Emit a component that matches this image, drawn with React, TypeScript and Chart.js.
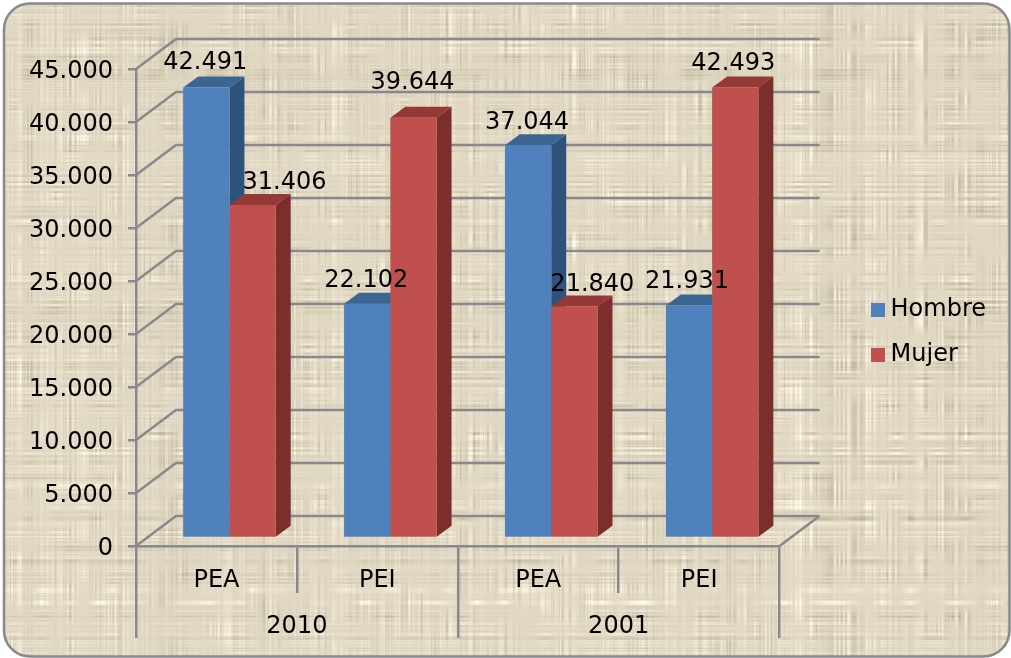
import React, { useEffect, useRef } from "react";
import { Chart, registerables } from "chart.js";

Chart.register(...registerables);

const categories = ["PEA", "PEI", "PEA", "PEI"];
const years = ["2010", "2001"];
const hombre = [42491, 22102, 37044, 21931];
const mujer = [31406, 39644, 21840, 42493];
const seriesNames = ["Hombre", "Mujer"];

const FONT = '"DejaVu Sans", sans-serif';
const FONT_SIZE = 24;
const GRID = "#87898c";
const LINE = 2.5;
const DEPTH = { x: 40, y: 30 };
const BAR_DEPTH = { x: 15, y: 11 };
const BAR_SHIFT = { x: 13, y: -8 };
const faces = [
  { front: "#4f81bd", top: "#3d6592", side: "#2f527c" },
  { front: "#c0504d", top: "#943936", side: "#7b2e2c" },
];
// [dx, dy] of each value label from the bar's front-top centre
const hombreLabelShift = [[-1, -25], [-1, -23], [-1, -23], [-2, -24]];
const mujerLabelShift = [[32, -22], [-1, -35], [18, -22], [-2, -24]];

const fmt = (v: number) =>
  String(v).replace(/\B(?=(\d{3})+(?!\d))/g, ".");

function makeTexture(w: number, h: number) {
  const c = document.createElement("canvas");
  c.width = w;
  c.height = h;
  const g = c.getContext("2d")!;
  const img = g.createImageData(w, h);
  let seed = 12345;
  const next = () => {
    seed = (seed * 1664525 + 1013904223) >>> 0;
    return seed / 4294967296;
  };
  const smooth = (a: number[]) =>
    a.map((v, i) => v * 0.6 + (a[i - 1] ?? v) * 0.2 + (a[i + 1] ?? v) * 0.2);
  const cols = smooth(Array.from({ length: w }, () => next() - 0.5));
  const rows = smooth(Array.from({ length: h }, () => next() - 0.5));
  const CELL = 14;
  const gw = Math.ceil(w / CELL) + 2;
  const gh = Math.ceil(h / CELL) + 2;
  const patchA = Array.from({ length: gw * gh }, () => next());
  const patchB = Array.from({ length: gw * gh }, () => next());
  const sample = (p: number[], x: number, y: number) => {
    const fx = x / CELL, fy = y / CELL;
    const ix = Math.floor(fx), iy = Math.floor(fy);
    const tx = fx - ix, ty = fy - iy;
    const a = p[iy * gw + ix], b = p[iy * gw + ix + 1];
    const d = p[(iy + 1) * gw + ix], e = p[(iy + 1) * gw + ix + 1];
    return (a * (1 - tx) + b * tx) * (1 - ty) + (d * (1 - tx) + e * tx) * ty;
  };
  for (let y = 0; y < h; y++) {
    for (let x = 0; x < w; x++) {
      const pa = sample(patchA, x, y);
      const pb = sample(patchB, x, y);
      const n = (cols[x] * pa * pa + rows[y] * pb * pb) * 85;
      const i = (y * w + x) * 4;
      img.data[i] = 225 + n;
      img.data[i + 1] = 216 + n * 1.02;
      img.data[i + 2] = 195 + n * 1.1;
      img.data[i + 3] = 255;
    }
  }
  g.putImageData(img, 0, 0);
  return c;
}

function swatch(color: string) {
  const c = document.createElement("canvas");
  c.width = 14;
  c.height = 14;
  const g = c.getContext("2d")!;
  g.fillStyle = color;
  g.fillRect(0, 0, 14, 14);
  return c;
}

const scene3d = {
  id: "scene3d",
  beforeDraw(chart: any) {
    const { ctx } = chart;
    const tex = makeTexture(chart.width, chart.height);
    ctx.save();
    ctx.beginPath();
    ctx.roundRect(4, 3.5, 1005.5, 653, 26);
    ctx.save();
    ctx.clip();
    ctx.drawImage(tex, 0, 0);
    ctx.restore();
    ctx.lineWidth = LINE;
    ctx.strokeStyle = GRID;
    ctx.stroke();
    ctx.restore();
  },
  beforeDatasetDraw(chart: any, args: any) {
    const { ctx, scales } = chart;
    if (args.index === 1) {
      const y = scales.y;
      const { left, right, bottom } = chart.chartArea;
      ctx.save();
      ctx.strokeStyle = GRID;
      ctx.lineWidth = LINE;
      ctx.beginPath();
      y.ticks.forEach((t: any) => {
        const py = y.getPixelForValue(t.value);
        ctx.moveTo(left, py);
        ctx.lineTo(left + DEPTH.x, py - DEPTH.y);
        ctx.lineTo(right + DEPTH.x, py - DEPTH.y);
      });
      ctx.moveTo(right, bottom);
      ctx.lineTo(right + DEPTH.x, bottom - DEPTH.y);
      ctx.stroke();

      [0, 1].forEach((ds) => {
        const st = faces[ds];
        chart.getDatasetMeta(ds).data.forEach((bar: any) => {
          const p = bar.getProps(["x", "y", "base", "width"], true);
          const r = p.x + p.width / 2 + BAR_SHIFT.x;
          const l = p.x - p.width / 2 + BAR_SHIFT.x;
          const top = p.y + BAR_SHIFT.y;
          const base = p.base + BAR_SHIFT.y;
          ctx.fillStyle = st.side;
          ctx.beginPath();
          ctx.moveTo(r, top);
          ctx.lineTo(r + BAR_DEPTH.x, top - BAR_DEPTH.y);
          ctx.lineTo(r + BAR_DEPTH.x, base - BAR_DEPTH.y);
          ctx.lineTo(r, base);
          ctx.closePath();
          ctx.fill();
          ctx.fillStyle = st.top;
          ctx.beginPath();
          ctx.moveTo(l, top);
          ctx.lineTo(l + BAR_DEPTH.x, top - BAR_DEPTH.y);
          ctx.lineTo(r + BAR_DEPTH.x, top - BAR_DEPTH.y);
          ctx.lineTo(r, top);
          ctx.closePath();
          ctx.fill();
        });
      });
      ctx.restore();
    }
    ctx.save();
    ctx.translate(BAR_SHIFT.x, BAR_SHIFT.y);
  },
  afterDatasetDraw(chart: any) {
    chart.ctx.restore();
  },
  afterDatasetsDraw(chart: any) {
    const { ctx } = chart;
    ctx.save();
    ctx.fillStyle = "#000";
    ctx.font = `${FONT_SIZE}px ${FONT}`;
    ctx.textAlign = "center";
    ctx.textBaseline = "middle";
    const shifts = [hombreLabelShift, mujerLabelShift];
    chart.data.datasets.forEach((d: any, ds: number) => {
      chart.getDatasetMeta(ds).data.forEach((bar: any, i: number) => {
        const p = bar.getProps(["x", "y"], true);
        ctx.fillText(
          fmt(d.data[i]),
          p.x + BAR_SHIFT.x + shifts[ds][i][0],
          p.y + BAR_SHIFT.y + shifts[ds][i][1]
        );
      });
    });
    ctx.restore();
  },
};

export default function App() {
  const ref = useRef<HTMLCanvasElement>(null);
  useEffect(() => {
    const axisFont = { family: FONT, size: FONT_SIZE };
    const chart = new Chart(ref.current!, {
      type: "bar",
      data: {
        labels: categories,
        datasets: [
          { label: seriesNames[0], data: hombre, backgroundColor: faces[0].front, xAxisID: "x", yAxisID: "y" },
          { label: seriesNames[1], data: mujer, backgroundColor: faces[1].front, xAxisID: "x", yAxisID: "y" },
        ],
      },
      options: {
        animation: false,
        responsive: false,
        events: [],
        layout: { padding: { top: 6, left: 0, right: 15, bottom: 0 } },
        datasets: { bar: { categoryPercentage: 0.575, barPercentage: 1 } },
        plugins: {
          tooltip: { enabled: false },
          legend: {
            position: "right",
            labels: {
              font: axisFont,
              color: "#000",
              padding: 21,
              usePointStyle: true,
              pointStyleWidth: 2,
              boxHeight: 14,
              generateLabels(c: any) {
                return c.data.datasets.map((d: any, i: number) => ({
                  text: d.label,
                  fontColor: "#000",
                  pointStyle: swatch(faces[i].front),
                  datasetIndex: i,
                  lineWidth: 0,
                  strokeStyle: "transparent",
                  fillStyle: faces[i].front,
                }));
              },
            },
          },
        },
        scales: {
          x: {
            position: "bottom",
            weight: 1,
            offset: true,
            grid: { offset: true, drawOnChartArea: false, drawTicks: true, tickLength: 47, color: GRID, lineWidth: LINE },
            border: { color: GRID, width: LINE },
            ticks: { font: axisFont, color: "#000", padding: -27, maxRotation: 0 },
            afterFit(s: any) { s.height = 47; },
          },
          x2: {
            type: "category",
            labels: years,
            position: "bottom",
            weight: 2,
            offset: true,
            grid: { offset: true, drawOnChartArea: false, tickLength: 45, color: GRID, lineWidth: LINE },
            border: { display: false },
            ticks: { font: axisFont, color: "#000", padding: -26, maxRotation: 0 },
            afterFit(s: any) { s.height = 65; },
          },
          topGap: {
            type: "category",
            labels: [""],
            position: "top",
            grid: { display: false },
            border: { display: false },
            ticks: { display: false },
            afterFit(s: any) { s.height = 63; },
          },
          y: {
            position: "left",
            min: 0,
            max: 45000,
            grid: { drawOnChartArea: false, tickLength: 8, color: GRID, lineWidth: LINE },
            border: { color: GRID, width: LINE },
            ticks: {
              stepSize: 5000,
              font: axisFont,
              color: "#000",
              padding: 15,
              labelOffset: 3,
              callback: (v: any) => fmt(Number(v)),
            },
            afterFit(s: any) { s.width = 136; },
          },
          gap: {
            type: "linear",
            position: "right",
            display: true,
            grid: { display: false },
            border: { display: false },
            ticks: { display: false },
            afterFit(s: any) { s.width = 76; },
          },
        },
      },
      plugins: [scene3d],
    } as any);
    return () => chart.destroy();
  }, []);
  return (
    <div style={{ position: "fixed", left: 0, top: 0 }}>
      <canvas ref={ref} width={1011} height={658} style={{ display: "block" }} />
    </div>
  );
}
